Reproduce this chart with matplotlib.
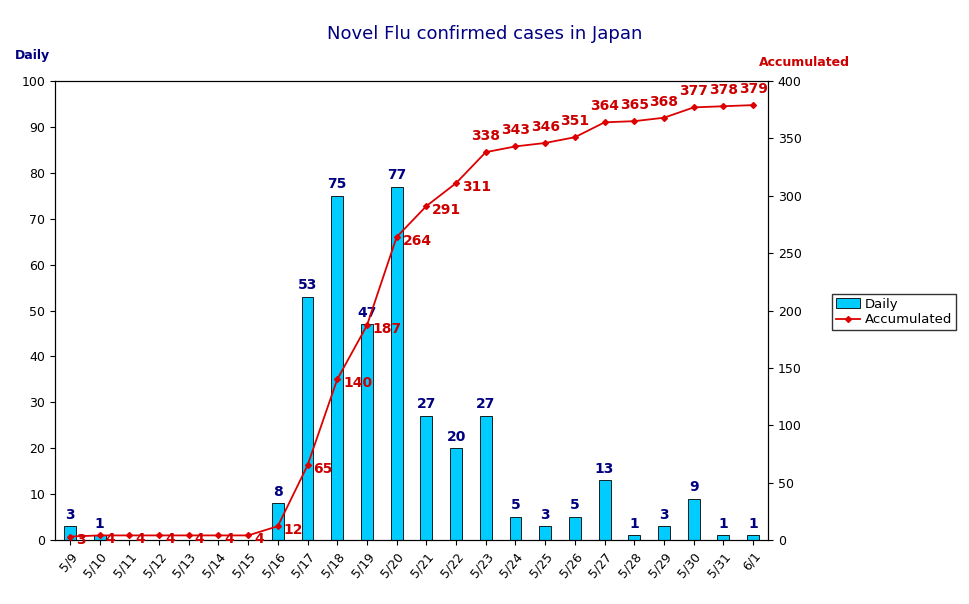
import matplotlib
matplotlib.use("Agg")
import matplotlib.pyplot as plt
import numpy as np

dates = ["5/9","5/10","5/11","5/12","5/13","5/14","5/15","5/16","5/17","5/18","5/19","5/20",
         "5/21","5/22","5/23","5/24","5/25","5/26","5/27","5/28","5/29","5/30","5/31","6/1"]
daily = [3,1,0,0,0,0,0,8,53,75,47,77,27,20,27,5,3,5,13,1,3,9,1,1]
accum = [3,4,4,4,4,4,4,12,65,140,187,264,291,311,338,343,346,351,364,365,368,377,378,379]

plt.rcParams['font.family'] = ['DejaVu Sans']
fig = plt.figure(figsize=(9.7, 6.04), dpi=100)
ax = fig.add_axes([55/970, 1-540/604, 713/970, 459/604])
x = np.arange(len(dates))
bars = ax.bar(x, daily, width=0.4, color='#00ccff', edgecolor='black', linewidth=0.6, label='Daily', zorder=2)
ax.set_ylim(0, 100)
ax.set_xlim(-0.5, len(dates)-0.5)
ax.set_yticks(range(0, 101, 10))
ax.set_xticks(x)
ax.set_xticklabels(dates, rotation=50, ha='right', fontsize=9, rotation_mode='anchor')
ax.tick_params(labelsize=9)
for xi, v in zip(x, daily):
    if v > 0:
        ax.text(xi, v + 1, str(v), ha='center', va='bottom', color='#000080', fontsize=10, fontweight='bold')

ax2 = ax.twinx()
line, = ax2.plot(x, accum, color='#dd0000', marker='D', markersize=3, linewidth=1.3, label='Accumulated', zorder=3)
ax2.set_ylim(0, 400)
ax2.set_yticks(range(0, 401, 50))
ax2.tick_params(labelsize=9)
for i, (xi, v) in enumerate(zip(x, accum)):
    if i >= 14:
        ax2.text(xi, v + 8, str(v), ha='center', va='bottom', color='#cc0000', fontsize=10, fontweight='bold')
    else:
        ax2.text(xi + 0.2, v - 3, str(v), ha='left', va='center', color='#cc0000', fontsize=10, fontweight='bold')

fig.text(0.5, 1-34/604, "Novel Flu confirmed cases in Japan", ha='center', va='center', color='#000080', fontsize=13)
fig.text(15/970, 1-56/604, "Daily", ha='left', va='center', color='#000080', fontsize=9, fontweight='bold')
fig.text(850/970, 1-63/604, "Accumulated", ha='right', va='center', color='#cc0000', fontsize=9, fontweight='bold')

fig.legend([bars, line], ['Daily', 'Accumulated'], loc='center left', bbox_to_anchor=(832/970, 1-312/604),
           fontsize=9.5, frameon=True, fancybox=False, edgecolor='black', handlelength=1.8,
           handletextpad=0.4, borderpad=0.3, labelspacing=0.2, borderaxespad=0)
fig.savefig("out.png", dpi=100)
